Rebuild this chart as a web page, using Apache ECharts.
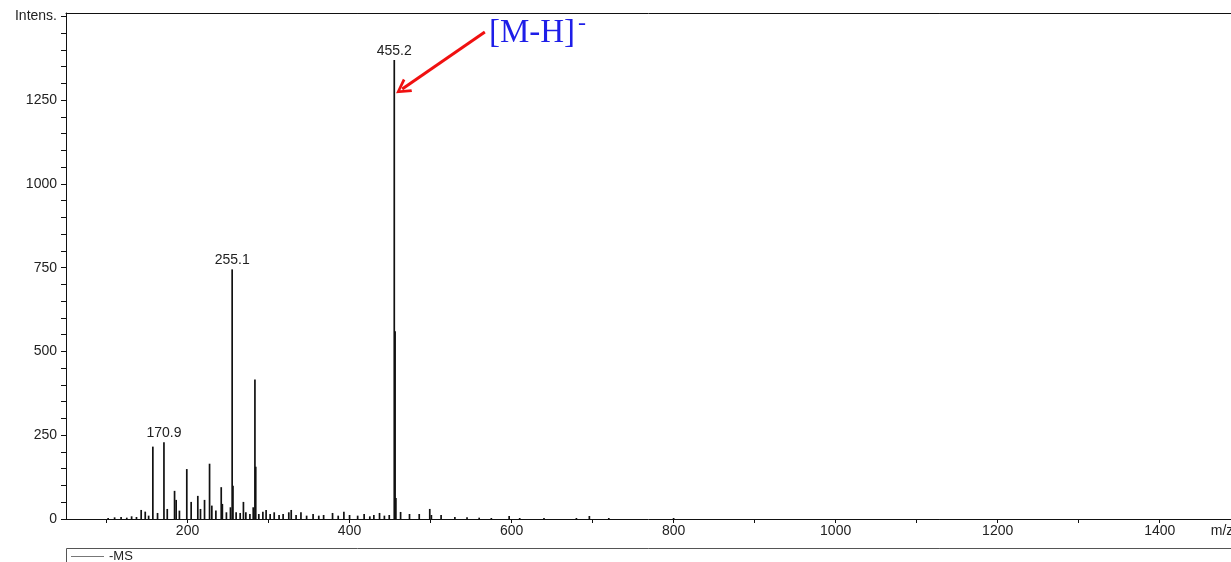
<!DOCTYPE html>
<html>
<head>
<meta charset="utf-8">
<script src="https://cdn.jsdelivr.net/npm/echarts@6/dist/echarts.min.js"></script>
<style>
html,body{margin:0;padding:0;background:#fff;}
#c{width:1231px;height:562px;}
</style>
</head>
<body>
<div id="c"></div>
<script>
// m/z values of peaks
const peakMz = [102, 110, 118, 125, 131, 137, 142.8, 147.8, 152, 157.2, 163, 170.9, 175, 184, 186, 190,
  199.1, 204.5, 212.7, 216, 221, 227.2, 230, 235, 241.6, 243, 248, 253, 255.1, 256.1, 260, 265, 269, 272,
  277, 281.1, 283.2, 284.2, 288, 293, 297, 302, 307, 313, 318, 325, 328, 334, 340, 347, 355, 362, 368,
  379, 386, 393, 400, 410, 418, 425, 430, 437, 443, 449, 455.2, 456.2, 457.2, 463, 474, 486, 499, 501,
  513, 530, 545, 560, 575, 597, 610, 640, 680, 696, 720, 800];
// intensities of peaks
const peakInt = [3, 5, 6, 4, 8, 6, 27, 22, 10, 216, 18, 229, 30, 84, 57, 25,
  149, 51, 69, 30, 57, 165, 40, 25, 95, 45, 20, 35, 745, 99, 20, 18, 51, 20,
  15, 35, 416, 156, 15, 22, 27, 15, 20, 12, 15, 20, 27, 12, 20, 10, 15, 10, 12,
  18, 10, 22, 12, 10, 15, 8, 12, 18, 10, 12, 1370, 560, 63, 21, 15, 15, 30, 12,
  12, 6, 5, 4, 3, 9, 3, 3, 3, 9, 3, 3];
const labeledPeaks = [170.9, 255.1, 455.2];
const xTickValues = [100, 200, 300, 400, 500, 600, 700, 800, 900, 1000, 1100, 1200, 1300, 1400];
const xLabelValues = [200, 400, 600, 800, 1000, 1200, 1400, 1477];
const yTickValues = [0,50,100,150,200,250,300,350,400,450,500,550,600,650,700,750,800,850,900,950,1000,1050,1100,1150,1200,1250,1300,1350,1400,1450,1500];
const yLabelValues = [0, 250, 500, 750, 1000, 1250, 1500];
const seriesName = '-MS';
const annotationText = '[M-H]';
const annotationSup = '-';
const annotationPos = [572, 1450];
const arrowFrom = [567, 1453];
const arrowTo = [465, 1283];

const data = peakMz.map((m, i) => [m, peakInt[i]]);
const FONT = '"Liberation Sans", Arial, sans-serif';

const chart = echarts.init(document.getElementById('c'), null, {renderer: 'canvas'});
chart.setOption({
  animation: false,
  backgroundColor: '#fff',
  grid: {left: 66, right: 0, top: 13, bottom: 43, show: false, containLabel: false, outerBoundsMode: 'none'},
  xAxis: [{
    type: 'value', min: 50, max: 1488,
    axisLine: {show: true, lineStyle: {color: '#111', width: 1}},
    axisTick: {show: true, customValues: xTickValues, length: 4, lineStyle: {color: '#111'}},
    axisLabel: {customValues: xLabelValues, margin: 5, fontFamily: FONT, fontSize: 14, color: '#222',
      formatter: v => v > 1450 ? 'm/z' : String(v)},
    splitLine: {show: false}
  }, {
    type: 'value', position: 'top', min: 50, max: 1488,
    axisLine: {show: true, onZero: false, lineStyle: {color: '#111', width: 1}},
    axisTick: {show: false}, axisLabel: {show: false}, splitLine: {show: false}
  }],
  yAxis: {
    type: 'value', min: 0, max: 1510,
    axisLine: {show: true, lineStyle: {color: '#111', width: 1}},
    axisTick: {show: true, customValues: yTickValues, length: 5, lineStyle: {color: '#111'}},
    axisLabel: {customValues: yLabelValues, margin: 9, fontFamily: FONT, fontSize: 14, color: '#222',
      formatter: v => v === 1500 ? 'Intens.' : String(v)},
    splitLine: {show: false}
  },
  legend: {
    show: true, left: 71, top: 550, padding: 0, itemWidth: 33, itemHeight: 1, itemGap: 4,
    icon: 'rect',
    itemStyle: {color: '#777'},
    textStyle: {fontFamily: FONT, fontSize: 13, color: '#222', padding: [0, 0, 0, 0]},
    data: [{name: seriesName}]
  },
  graphic: [
    {type: 'polyline', silent: true, shape: {points: [[66.5, 562], [66.5, 548.5], [1231, 548.5]]},
      style: {stroke: '#555', lineWidth: 1, fill: null}}
  ],
  series: [{
    name: seriesName,
    type: 'custom',
    itemStyle: {color: '#111'},
    data: data,
    encode: {x: 0, y: 1},
    renderItem: function (params, api) {
      const mz = api.value(0), it = api.value(1);
      const p0 = api.coord([mz, 0]);
      const p1 = api.coord([mz, it]);
      const children = [{
        type: 'line',
        shape: {x1: p0[0], y1: p0[1], x2: p1[0], y2: p1[1]},
        style: {stroke: '#111', lineWidth: 1.7}
      }];
      if (labeledPeaks.indexOf(mz) >= 0) {
        children.push({
          type: 'text', x: p1[0], y: p1[1] - 2,
          style: {text: mz.toFixed(1), align: 'center', verticalAlign: 'bottom',
            font: '14px ' + FONT, fill: '#222'}
        });
      }
      return {type: 'group', children: children};
    },
    markLine: {
      silent: true,
      symbol: ['none', 'path://M50,0 L100,85 L84,92 L50,32 L16,92 L0,85 Z'],
      symbolSize: [16, 15],
      label: {show: false},
      lineStyle: {color: '#f01010', width: 3, type: 'solid'},
      data: [[{coord: arrowFrom}, {coord: arrowTo}]]
    },
    markPoint: {
      silent: true,
      symbol: 'circle', symbolSize: 0,
      data: [{coord: annotationPos}],
      label: {
        show: true, position: 'right', distance: 0,
        formatter: '{a|' + annotationText + '}{b|' + annotationSup + '}',
        rich: {
          a: {fontFamily: '"Liberation Serif", "Times New Roman", serif', fontSize: 33, color: '#1e1ee8'},
          b: {fontFamily: '"Liberation Serif", "Times New Roman", serif', fontSize: 24, color: '#1e1ee8', padding: [0, 0, 18, 3]}
        }
      }
    }
  }]
});
</script>
</body>
</html>
